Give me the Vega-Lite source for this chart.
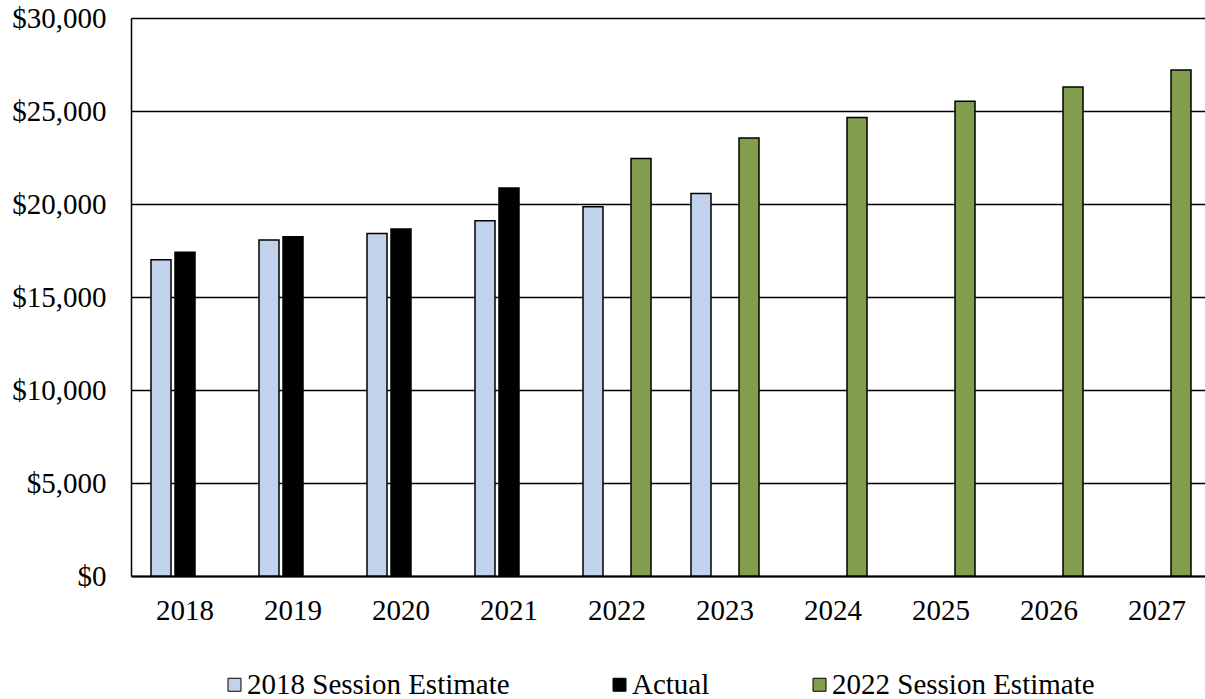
{
  "$schema": "https://vega.github.io/schema/vega-lite/v6.json",
  "width": 1074,
  "height": 558,
  "autosize": {"type": "none"},
  "padding": {"left": 131, "top": 18, "right": 0, "bottom": 123},
  "background": "white",
  "config": {
    "view": {"stroke": null},
    "font": "Liberation Serif"
  },
  "data": {
    "values": [
      {"year": "2018", "series": "2018 Session Estimate", "amount": 17000},
      {"year": "2019", "series": "2018 Session Estimate", "amount": 18060},
      {"year": "2020", "series": "2018 Session Estimate", "amount": 18420},
      {"year": "2021", "series": "2018 Session Estimate", "amount": 19100},
      {"year": "2022", "series": "2018 Session Estimate", "amount": 19850},
      {"year": "2023", "series": "2018 Session Estimate", "amount": 20570},
      {"year": "2018", "series": "Actual", "amount": 17400},
      {"year": "2019", "series": "Actual", "amount": 18240},
      {"year": "2020", "series": "Actual", "amount": 18650},
      {"year": "2021", "series": "Actual", "amount": 20860},
      {"year": "2022", "series": "2022 Session Estimate", "amount": 22450},
      {"year": "2023", "series": "2022 Session Estimate", "amount": 23550},
      {"year": "2024", "series": "2022 Session Estimate", "amount": 24650},
      {"year": "2025", "series": "2022 Session Estimate", "amount": 25530},
      {"year": "2026", "series": "2022 Session Estimate", "amount": 26290},
      {"year": "2027", "series": "2022 Session Estimate", "amount": 27200}
    ]
  },
  "mark": {"type": "bar", "stroke": "black", "strokeWidth": 1.5},
  "encoding": {
    "x": {
      "field": "year",
      "type": "nominal",
      "scale": {"range": [0, 1080], "paddingInner": 0.3333, "paddingOuter": 0.1667},
      "axis": {
        "title": null,
        "labelAngle": 0,
        "ticks": false,
        "domainColor": "black",
        "domainWidth": 2,
        "labelFont": "Liberation Serif",
        "labelFontSize": 29,
        "labelColor": "black",
        "labelPadding": 20
      }
    },
    "xOffset": {
      "field": "series",
      "type": "nominal",
      "scale": {
        "domain": ["2018 Session Estimate", "Actual", "2022 Session Estimate"],
        "paddingInner": 0.167,
        "paddingOuter": 0.083
      }
    },
    "y": {
      "field": "amount",
      "type": "quantitative",
      "scale": {"domain": [0, 30000]},
      "axis": {
        "title": null,
        "values": [0, 5000, 10000, 15000, 20000, 25000, 30000],
        "format": "$,.0f",
        "ticks": false,
        "domainColor": "black",
        "domainWidth": 1.5,
        "gridColor": "black",
        "gridWidth": 1.5,
        "gridOpacity": 1,
        "labelFont": "Liberation Serif",
        "labelFontSize": 29,
        "labelColor": "black",
        "labelPadding": 25
      }
    },
    "color": {
      "field": "series",
      "type": "nominal",
      "scale": {
        "domain": ["2018 Session Estimate", "Actual", "2022 Session Estimate"],
        "range": ["#c3d2ec", "#000000", "#839d4e"]
      },
      "legend": {
        "title": null,
        "orient": "none",
        "direction": "horizontal",
        "legendX": 89,
        "legendY": 652,
        "symbolType": "square",
        "symbolSize": 169,
        "symbolStrokeColor": "black",
        "symbolStrokeWidth": 1,
        "symbolOpacity": 1,
        "labelFont": "Liberation Serif",
        "labelFontSize": 29,
        "labelColor": "black",
        "labelOffset": -2,
        "labelLimit": 500,
        "columnPadding": 95
      }
    }
  }
}
